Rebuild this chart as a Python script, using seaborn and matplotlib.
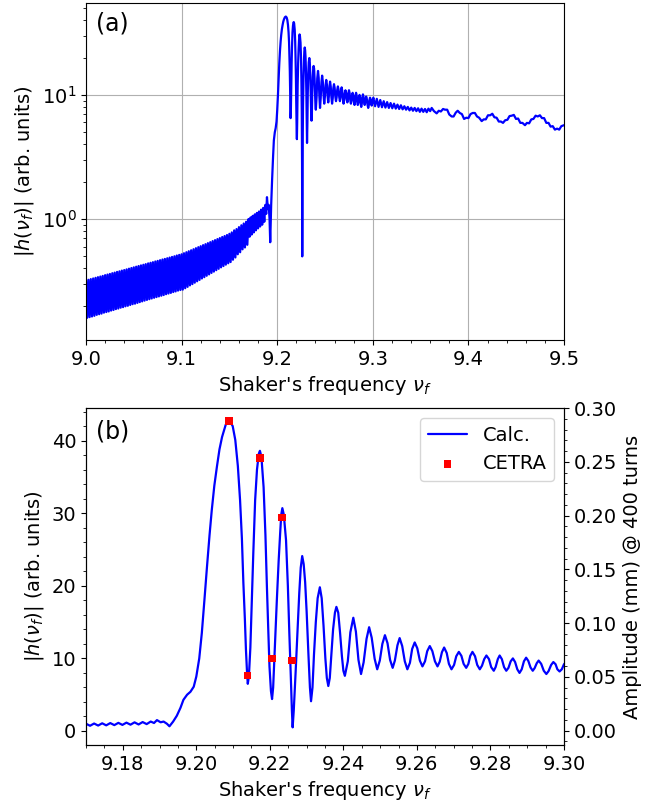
import numpy as np
import pandas as pd
import matplotlib
matplotlib.use("Agg")
import matplotlib.pyplot as plt
from matplotlib.ticker import AutoMinorLocator, MultipleLocator
import seaborn as sns

# ---------------- data ----------------
# dense band 9.000 .. 9.170 : upper (at 9.0 + k*step) and lower (half a step later) values
band_start = 9.0
band_step = 0.0025
band_upper = [0.320, 0.324, 0.328, 0.332, 0.336, 0.340, 0.344, 0.348, 0.353, 0.357,
              0.361, 0.366, 0.370, 0.375, 0.379, 0.384, 0.388, 0.393, 0.398, 0.403,
              0.408, 0.413, 0.418, 0.423, 0.428, 0.433, 0.439, 0.444, 0.449, 0.455,
              0.460, 0.466, 0.472, 0.477, 0.483, 0.489, 0.495, 0.501, 0.508, 0.514,
              0.520, 0.530, 0.540, 0.550, 0.560, 0.571, 0.582, 0.593, 0.604, 0.616,
              0.627, 0.639, 0.651, 0.664, 0.676, 0.689, 0.702, 0.716, 0.729, 0.743,
              0.760, 0.780, 0.810, 0.830, 0.860, 0.890, 0.920, 0.950]
band_lower = [0.160, 0.162, 0.164, 0.166, 0.169, 0.171, 0.173, 0.176, 0.178, 0.180,
              0.183, 0.185, 0.188, 0.190, 0.193, 0.195, 0.198, 0.200, 0.203, 0.206,
              0.208, 0.211, 0.214, 0.217, 0.220, 0.223, 0.226, 0.229, 0.232, 0.235,
              0.238, 0.241, 0.244, 0.248, 0.251, 0.254, 0.258, 0.261, 0.265, 0.268,
              0.270, 0.277, 0.284, 0.292, 0.299, 0.307, 0.315, 0.323, 0.332, 0.340,
              0.349, 0.358, 0.368, 0.377, 0.387, 0.397, 0.408, 0.418, 0.429, 0.440,
              0.450, 0.470, 0.490, 0.520, 0.540, 0.570, 0.590, 0.620]

# calculated response from 9.170 to 9.500
calc_x = [
    9.1700, 9.1711, 9.1722, 9.1733, 9.1744, 9.1755, 9.1766, 9.1777, 9.1788, 9.1799,
    9.1810, 9.1821, 9.1832, 9.1843, 9.1854, 9.1865, 9.1876, 9.1885, 9.1893, 9.1903,
    9.1911, 9.1920, 9.1927, 9.1937, 9.1947, 9.1957, 9.1965, 9.1975, 9.1984, 9.1993,
    9.2000, 9.2008, 9.2015, 9.2022, 9.2029, 9.2036, 9.2042, 9.2049, 9.2056, 9.2063,
    9.2070, 9.2080, 9.2090, 9.2099, 9.2106, 9.2113, 9.2119, 9.2124, 9.2128, 9.2132,
    9.2135, 9.2138, 9.2140, 9.2143, 9.2147, 9.2151, 9.2155, 9.2160, 9.2165, 9.2170,
    9.2173, 9.2177, 9.2183, 9.2188, 9.2192, 9.2196, 9.2199, 9.2203, 9.2206, 9.2209,
    9.2214, 9.2219, 9.2224, 9.2228, 9.2231, 9.2234, 9.2238, 9.2244, 9.2249, 9.2253,
    9.2257, 9.2260, 9.2262, 9.2265, 9.2270, 9.2275, 9.2280, 9.2284, 9.2288, 9.2292,
    9.2296, 9.2300, 9.2305, 9.2309, 9.2312, 9.2316, 9.2320, 9.2325, 9.2330, 9.2336,
    9.2341, 9.2346, 9.2351, 9.2355, 9.2359, 9.2363, 9.2367, 9.2372, 9.2377, 9.2381,
    9.2386, 9.2391, 9.2396, 9.2400, 9.2404,
    9.2412, 9.2419, 9.2427, 9.2434, 9.2441, 9.2448, 9.2455, 9.2463, 9.2470, 9.2477,
    9.2485, 9.2492, 9.2499, 9.2506, 9.2513, 9.2520, 9.2527, 9.2534, 9.2540, 9.2547,
    9.2553, 9.2560, 9.2567, 9.2574, 9.2581, 9.2587, 9.2594, 9.2601, 9.2608, 9.2615,
    9.2622, 9.2628, 9.2635, 9.2642, 9.2649, 9.2656, 9.2662, 9.2668, 9.2674, 9.2681,
    9.2687, 9.2694, 9.2701, 9.2707, 9.2714, 9.2721, 9.2727, 9.2734, 9.2740, 9.2745,
    9.2751, 9.2758, 9.2764, 9.2771, 9.2777, 9.2783, 9.2789, 9.2796, 9.2802, 9.2809,
    9.2814, 9.2820, 9.2825, 9.2831, 9.2837, 9.2843, 9.2849, 9.2855, 9.2861, 9.2867,
    9.2873, 9.2879, 9.2885, 9.2891, 9.2897, 9.2903, 9.2909, 9.2915, 9.2920, 9.2926,
    9.2931, 9.2938, 9.2945, 9.2952, 9.2958, 9.2965, 9.2971, 9.2977, 9.2982, 9.2988,
    9.2994, 9.3000, 9.3006,
    9.3024, 9.3042, 9.3060, 9.3078, 9.3096, 9.3114, 9.3132, 9.3150, 9.3168, 9.3186,
    9.3204, 9.3222, 9.3240, 9.3258, 9.3276, 9.3294, 9.3312, 9.3330, 9.3348, 9.3366,
    9.3384, 9.3402, 9.3420, 9.3438, 9.3456, 9.3474, 9.3492, 9.3510, 9.3528, 9.3546,
    9.3564, 9.3582, 9.3600,
    9.3616, 9.3640, 9.3668, 9.3690, 9.3712, 9.3735, 9.3755, 9.3778, 9.3800, 9.3825,
    9.3845, 9.3868, 9.3888, 9.3910, 9.3932, 9.3955, 9.3978, 9.4000, 9.4022, 9.4045,
    9.4068, 9.4090, 9.4112, 9.4139, 9.4160, 9.4182, 9.4205, 9.4228, 9.4250, 9.4272,
    9.4295, 9.4318, 9.4340, 9.4362, 9.4385, 9.4408, 9.4430, 9.4453, 9.4475, 9.4498,
    9.4520, 9.4543, 9.4565, 9.4592, 9.4612, 9.4635, 9.4658, 9.4680, 9.4703, 9.4725,
    9.4748, 9.4770, 9.4792, 9.4815, 9.4838, 9.4860, 9.4882, 9.4905, 9.4928, 9.4950,
    9.4972, 9.5000]
calc_y = [
    1.00, 0.72, 1.03, 0.75, 1.06, 0.78, 1.09, 0.81, 1.12, 0.84,
    1.15, 0.87, 1.19, 0.90, 1.23, 0.95, 1.30, 1.10, 1.50, 1.20,
    1.30, 1.00, 0.65, 1.30, 2.10, 3.20, 4.30, 5.00, 5.40, 6.10,
    7.50, 10.0, 13.5, 18.0, 22.6, 27.0, 30.4, 33.8, 36.4, 38.8,
    40.5, 42.2, 42.8, 42.0, 40.1, 36.5, 31.8, 26.5, 20.4, 15.5,
    11.2, 8.0, 6.5, 7.5, 11.5, 18.0, 24.5, 31.8, 36.0, 38.2,
    38.6, 37.8, 33.6, 27.0, 19.9, 13.5, 8.9, 5.5, 4.4, 6.0,
    12.0, 18.0, 23.5, 27.2, 29.8, 30.7, 29.8, 26.3, 20.0, 13.5,
    7.5, 2.8, 0.5, 2.8, 8.0, 13.5, 19.0, 22.5, 24.1, 23.0,
    20.5, 16.5, 10.5, 6.0, 4.1, 6.0, 10.5, 15.0, 18.3, 19.8,
    18.3, 14.5, 10.0, 7.3, 6.2, 7.3, 10.3, 14.0, 16.3, 17.1,
    16.3, 13.5, 10.3, 8.3, 7.6,
    9.6, 13.6, 15.6, 13.7, 9.8, 7.85, 9.45, 12.7, 14.3, 12.85,
    9.95, 8.5, 9.7, 12.0, 13.2, 12.1, 9.8, 8.7, 9.7, 11.8,
    12.8, 11.7, 9.6, 8.5, 9.4, 11.3, 12.2, 11.4, 9.7, 8.9,
    9.6, 11.0, 11.7, 11.0, 9.6, 8.9, 9.55, 10.85, 11.5, 10.75,
    9.25, 8.5, 9.1, 10.3, 10.9, 10.35, 9.25, 8.7, 9.25, 10.35,
    10.9, 10.3, 9.1, 8.5, 9.0, 9.9, 10.4, 9.9, 8.8, 8.3,
    8.8, 9.9, 10.4, 9.9, 8.8, 8.3, 8.7, 9.6, 10.0, 9.5,
    8.5, 8.0, 8.5, 9.6, 10.1, 9.65, 8.75, 8.3, 8.65, 9.35,
    9.7, 9.25, 8.3, 7.85, 8.25, 9.1, 9.5, 9.2, 8.5, 8.2,
    8.5, 9.2, 9.5,
    8.1, 9.3, 8.0, 9.1, 7.95, 8.9, 7.9, 8.75, 7.85, 8.6,
    7.8, 8.5, 7.75, 8.35, 7.7, 8.25, 7.65, 8.1, 7.6, 8.0,
    7.5, 7.9, 7.45, 7.85, 7.4, 7.8, 7.3, 7.75, 7.3, 7.7,
    7.25, 7.75, 7.4,
    7.85, 7.4, 7.1, 7.45, 7.35, 7.7, 7.6, 7.6, 6.95, 6.7,
    6.7, 7.2, 7.45, 7.15, 7.0, 6.4, 6.55, 6.5, 7.0, 7.15,
    7.15, 6.7, 6.55, 6.15, 6.35, 6.35, 6.85, 6.85, 7.05, 6.6,
    6.55, 6.1, 6.1, 5.95, 6.25, 6.3, 6.75, 6.8, 6.9, 6.4,
    6.45, 5.95, 5.95, 5.7, 5.95, 5.9, 6.35, 6.4, 6.8, 6.7,
    6.85, 6.5, 6.5, 5.95, 5.95, 5.55, 5.6, 5.25, 5.35, 5.25,
    5.6, 5.7]

# CETRA tracking results (right axis, mm)
cetra_x = [9.2089, 9.2139, 9.2174, 9.2206, 9.2233, 9.2261]
cetra_y = [0.2879, 0.0511, 0.2536, 0.0672, 0.1981, 0.0653]

# ---------------- assemble the series ----------------
band_x = []
band_y = []
for k, (u, l) in enumerate(zip(band_upper, band_lower)):
    band_x += [band_start + k * band_step, band_start + (k + 0.5) * band_step]
    band_y += [u, l]
df = pd.DataFrame({"nu": band_x + calc_x, "h": band_y + calc_y})
df_cetra = pd.DataFrame({"nu": cetra_x, "amp": cetra_y})

# ---------------- style ----------------
sns.set_style("ticks")
plt.rcParams.update({
    "font.family": ["DejaVu Sans"],
    "font.size": 14,
    "path.simplify": False,
    "axes.edgecolor": "black",
    "axes.linewidth": 0.8,
    "text.color": "black",
    "axes.labelcolor": "black",
    "xtick.color": "black",
    "ytick.color": "black",
    "xtick.labelsize": 14,
    "ytick.labelsize": 14,
    "axes.labelsize": 14,
    "xtick.major.size": 3.5,
    "ytick.major.size": 3.5,
    "xtick.minor.size": 2,
    "ytick.minor.size": 2,
    "xtick.major.width": 0.8,
    "ytick.major.width": 0.8,
    "xtick.minor.width": 0.6,
    "ytick.minor.width": 0.6,
})

fig = plt.figure(figsize=(6.47, 8.02), dpi=100)
ax1 = fig.add_axes([86 / 647, 1 - 340 / 802, 478 / 647, 337 / 802])
ax2 = fig.add_axes([86 / 647, 1 - 745 / 802, 478 / 647, 337 / 802])

blue = "#0000ff"
red = "#ff0000"

# ---- panel (a) ----
sns.lineplot(data=df, x="nu", y="h", ax=ax1, color=blue, lw=1.6,
             estimator=None, sort=False)
ax1.set_yscale("log")
ax1.set_xlim(9.0, 9.5)
ax1.set_ylim(0.106, 55)
ax1.xaxis.set_major_locator(MultipleLocator(0.1))
ax1.xaxis.set_minor_locator(AutoMinorLocator(5))
ax1.grid(True, which="major", color="#b0b0b0", lw=0.8)
ax1.set_xlabel(r"Shaker's frequency $\nu_f$")
ax1.set_ylabel(r"$|h(\nu_f)|$ (arb. units)")
ax1.text(0.02, 0.975, "(a)", transform=ax1.transAxes, fontsize=17,
         va="top", ha="left")

# ---- panel (b) ----
sns.lineplot(data=df, x="nu", y="h", ax=ax2, color=blue, lw=1.6,
             estimator=None, sort=False, label="Calc.")
ax2.set_xlim(9.17, 9.30)
ax2.set_ylim(-1.93, 44.5)
ax2.xaxis.set_major_locator(MultipleLocator(0.02))
ax2.xaxis.set_minor_locator(AutoMinorLocator(4))
ax2.yaxis.set_major_locator(MultipleLocator(10))
ax2.yaxis.set_minor_locator(AutoMinorLocator(5))
ax2.xaxis.set_major_formatter(matplotlib.ticker.FormatStrFormatter("%.2f"))
ax2.set_xlabel(r"Shaker's frequency $\nu_f$")
ax2.set_ylabel(r"$|h(\nu_f)|$ (arb. units)")
ax2.text(0.02, 0.965, "(b)", transform=ax2.transAxes, fontsize=17,
         va="top", ha="left")

ax2r = ax2.twinx()
sns.scatterplot(data=df_cetra, x="nu", y="amp", ax=ax2r, color=red, marker="s",
                s=30, edgecolor="none", label="CETRA", zorder=5)
ax2r.set_ylim(-0.0134, 0.30)
ax2r.yaxis.set_major_locator(MultipleLocator(0.05))
ax2r.yaxis.set_minor_locator(AutoMinorLocator(5))
ax2r.yaxis.set_major_formatter(matplotlib.ticker.FormatStrFormatter("%.2f"))
ax2r.set_ylabel("Amplitude (mm) @ 400 turns")
ax2r.set_xlim(9.17, 9.30)

h1, l1 = ax2.get_legend_handles_labels()
h2, l2 = ax2r.get_legend_handles_labels()
if ax2.get_legend() is not None:
    ax2.get_legend().remove()
if ax2r.get_legend() is not None:
    ax2r.get_legend().remove()
ax2r.legend(h1 + h2, l1 + l2, loc="upper right", fontsize=14, frameon=True)

fig.savefig("out.png", dpi=100)
